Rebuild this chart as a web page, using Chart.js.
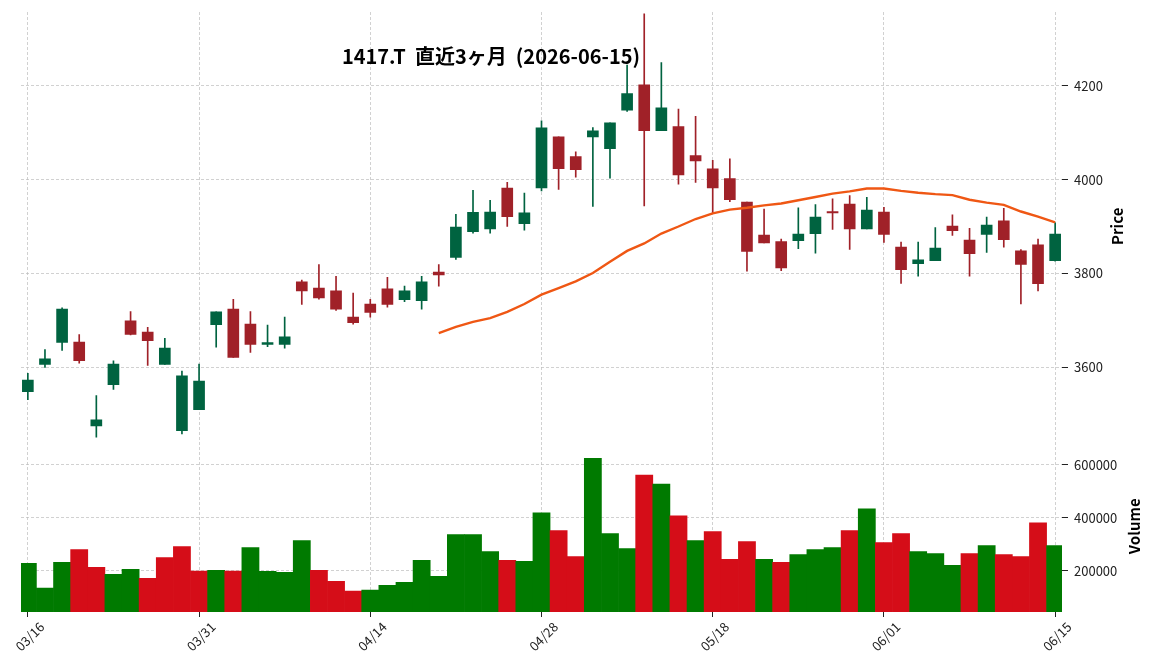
<!DOCTYPE html>
<html>
<head>
<meta charset="utf-8">
<script src="https://cdn.jsdelivr.net/npm/chart.js@4.4.0/dist/chart.umd.min.js"></script>
<style>
  html, body { margin: 0; padding: 0; background: #fff; }
</style>
</head>
<body>
<canvas id="myChart" width="1152" height="670"></canvas>
<script>
const chartTitle = '1417.T  直近3ヶ月  (2026-06-15)';

const dates = ['03/16', '03/17', '03/18', '03/19', '03/23', '03/24', '03/25', '03/26', '03/27', '03/30',
    '03/31', '04/01', '04/02', '04/03', '04/06', '04/07', '04/08', '04/09', '04/10', '04/13',
    '04/14', '04/15', '04/16', '04/17', '04/20', '04/21', '04/22', '04/23', '04/24', '04/27',
    '04/28', '04/30', '05/01', '05/07', '05/08', '05/11', '05/12', '05/13', '05/14', '05/15',
    '05/18', '05/19', '05/20', '05/21', '05/22', '05/25', '05/26', '05/27', '05/28', '05/29',
    '06/01', '06/02', '06/03', '06/04', '06/05', '06/08', '06/09', '06/10', '06/11', '06/12',
    '06/15'];

const opens = [3548, 3606, 3653, 3654, 3475, 3563, 3699, 3675, 3606, 3465,
    3510, 3691, 3724, 3692, 3649, 3649, 3782, 3769, 3763, 3707,
    3735, 3767, 3744, 3742, 3803, 3834, 3889, 3895, 3982, 3906,
    3982, 4091, 4049, 4091, 4066, 4148, 4202, 4104, 4113, 4051,
    4023, 4002, 3952, 3882, 3868, 3870, 3885, 3932, 3948, 3895,
    3931, 3856, 3821, 3827, 3901, 3871, 3883, 3912, 3848, 3861,
    3827];
const highs = [3587, 3638, 3727, 3670, 3540, 3614, 3719, 3685, 3662, 3592,
    3607, 3718, 3745, 3719, 3690, 3707, 3786, 3819, 3794, 3758,
    3745, 3792, 3773, 3794, 3819, 3926, 3977, 3956, 3994, 3971,
    4125, 4091, 4059, 4111, 4121, 4244, 4353, 4249, 4150, 4135,
    4041, 4044, 3952, 3937, 3873, 3940, 3947, 3959, 3966, 3962,
    3941, 3867, 3867, 3898, 3925, 3896, 3920, 3939, 3851, 3873,
    3908];
const lows = [3531, 3600, 3636, 3609, 3451, 3553, 3669, 3604, 3606, 3458,
    3510, 3643, 3621, 3632, 3644, 3641, 3734, 3745, 3721, 3692,
    3707, 3728, 3740, 3724, 3773, 3830, 3886, 3886, 3900, 3892,
    3976, 3979, 4005, 3943, 4003, 4145, 3944, 4104, 3990, 3994,
    3928, 3953, 3805, 3865, 3806, 3853, 3843, 3894, 3851, 3895,
    3866, 3779, 3794, 3827, 3881, 3794, 3845, 3856, 3735, 3763,
    3826];
const closes = [3573, 3618, 3724, 3614, 3488, 3607, 3670, 3657, 3641, 3582,
    3571, 3718, 3621, 3649, 3653, 3665, 3763, 3748, 3724, 3695,
    3717, 3734, 3763, 3782, 3797, 3899, 3930, 3931, 3921, 3929,
    4110, 4023, 4021, 4104, 4121, 4183, 4104, 4153, 4010, 4040,
    3982, 3957, 3847, 3865, 3812, 3884, 3920, 3929, 3895, 3935,
    3883, 3808, 3829, 3854, 3891, 3842, 3903, 3872, 3819, 3778,
    3884];
const volumes = [227400, 134000, 231100, 279800, 212500, 186300, 205000, 171400, 249900, 290900,
    198800, 201300, 198800, 287200, 197600, 193800, 313400, 201300, 160200, 122800,
    126500, 145200, 156400, 238600, 178800, 335800, 335800, 272300, 238600, 234900,
    418100, 350800, 253600, 623700, 339600, 283500, 560100, 526500, 406900, 313400,
    347100, 242400, 309700, 242400, 231100, 261100, 279800, 287300, 350800, 433000,
    305900, 339600, 272300, 264800, 220000, 264800, 294700, 261100, 253600, 380700,
    294700];
// 25-day moving average as drawn (starts at the 25th session)
const ma25 = [null, null, null, null, null, null, null, null, null, null,
    null, null, null, null, null, null, null, null, null, null,
    null, null, null, null, 3673, 3686, 3697, 3705, 3718, 3735,
    3755, 3769, 3783, 3801, 3825, 3848, 3864, 3885, 3900, 3916,
    3928, 3936, 3940, 3945, 3949, 3956, 3963, 3970, 3975, 3981,
    3981, 3976, 3972, 3969, 3967, 3957, 3951, 3946, 3932, 3921,
    3909];

const dateTicks = [0, 10, 20, 30, 40, 50, 60];
const priceTicks = [3600, 3800, 4000, 4200];
const volumeTicks = [200000, 400000, 600000];

const upColor = '#006340', downColor = '#a02128';
const volUpColor = '#007a00', volDownColor = '#d50d18';
const maColor = '#ef5714';
const gridColor = '#bdbdbd';
const fontFamily = '"Noto Sans CJK JP", "Noto Sans", sans-serif';

const idx = dates.map((d, i) => i);
const candleColor = c => closes[c.dataIndex] >= opens[c.dataIndex] ? upColor : downColor;
const volumeColor = c => {
    const i = c.dataIndex;
    const up = i === 0 ? closes[0] >= opens[0] : closes[i] > closes[i - 1];
    return up ? volUpColor : volDownColor;
};

// title and rotated axis names
const textPlugin = {
    id: 'panelText',
    afterDraw(chart) {
        const c = chart.ctx;
        c.save();
        c.fillStyle = '#000';
        c.textAlign = 'center';
        c.textBaseline = 'middle';
        c.font = 'bold 20px ' + fontFamily;
        c.fillText(chartTitle, 491, 56);
        c.font = 'bold 15px ' + fontFamily;
        const yP = chart.scales.y, yV = chart.scales.yv;
        [['Price', 1117, (yP.top + yP.bottom) / 2], ['Volume', 1134, (yV.top + yV.bottom) / 2]].forEach(function (t) {
            c.save();
            c.translate(t[1], t[2]);
            c.rotate(-Math.PI / 2);
            c.fillText(t[0], 0, 0);
            c.restore();
        });
        c.restore();
    }
};

const gridOpts = { offset: false, color: gridColor, lineWidth: 0.7, tickColor: '#222', tickLength: 6, tickWidth: 1, tickBorderDash: [] };

const ctx = document.getElementById('myChart');
new Chart(ctx, {
    type: 'bar',
    data: {
        datasets: [{
            type: 'line',
            label: 'MA25',
            data: idx.map(i => ({ x: i, y: ma25[i] })),
            yAxisID: 'y',
            borderColor: maColor,
            borderWidth: 2.4,
            pointRadius: 0,
            tension: 0,
            order: 0
        }, {
            label: 'body',
            data: idx.map(i => ({ x: i, y: [opens[i], closes[i]] })),
            yAxisID: 'y',
            backgroundColor: candleColor,
            barThickness: 11,
            grouped: false,
            order: 1
        }, {
            label: 'wick',
            data: idx.map(i => ({ x: i, y: [lows[i], highs[i]] })),
            yAxisID: 'y',
            backgroundColor: candleColor,
            barThickness: 1,
            grouped: false,
            order: 2
        }, {
            label: 'Volume',
            data: idx.map(i => ({ x: i, y: volumes[i] })),
            yAxisID: 'yv',
            backgroundColor: volumeColor,
            barPercentage: 1,
            categoryPercentage: 1,
            grouped: false,
            order: 3
        }]
    },
    options: {
        responsive: false,
        animation: false,
        layout: { padding: { left: 21, top: 12, right: 0, bottom: 0 } },
        plugins: {
            legend: { display: false },
            tooltip: { enabled: false }
        },
        scales: {
            x: {
                type: 'linear',
                min: -0.4,
                max: 60.4,
                offset: false,
                afterBuildTicks: s => { s.ticks = dateTicks.map(v => ({ value: v })); },
                ticks: {
                    autoSkip: false,
                    minRotation: 45,
                    maxRotation: 45,
                    labelOffset: 14,
                    padding: 2,
                    color: '#222',
                    font: { family: fontFamily, size: 13 },
                    callback: v => dates[v]
                },
                grid: Object.assign({}, gridOpts, { tickLength: 5 }),
                border: { display: false, dash: [3, 2] },
                afterFit: s => { s.height = 58; s.paddingLeft = 0; s.paddingRight = 0; }
            },
            y: {
                type: 'linear',
                position: 'right',
                stack: 'panels',
                stackWeight: 5,
                min: 3444,
                max: 4357,
                afterBuildTicks: s => { s.ticks = priceTicks.map(v => ({ value: v })); },
                ticks: {
                    padding: 6,
                    color: '#222',
                    font: { family: fontFamily, size: 13 },
                    callback: v => String(v)
                },
                grid: gridOpts,
                border: { display: false, dash: [3, 2] },
                afterFit: s => { s.width = 90; s.paddingTop = 0; s.paddingBottom = 0; }
            },
            yv: {
                type: 'linear',
                position: 'right',
                stack: 'panels',
                stackWeight: 2,
                min: 44300,
                max: 690500,
                afterBuildTicks: s => { s.ticks = volumeTicks.map(v => ({ value: v })); },
                ticks: {
                    padding: 6,
                    color: '#222',
                    font: { family: fontFamily, size: 13 },
                    callback: v => String(v)
                },
                grid: gridOpts,
                border: { display: false, dash: [3, 2] },
                afterFit: s => { s.width = 90; s.paddingTop = 0; s.paddingBottom = 0; }
            }
        }
    },
    plugins: [textPlugin]
});
</script>
</body>
</html>
